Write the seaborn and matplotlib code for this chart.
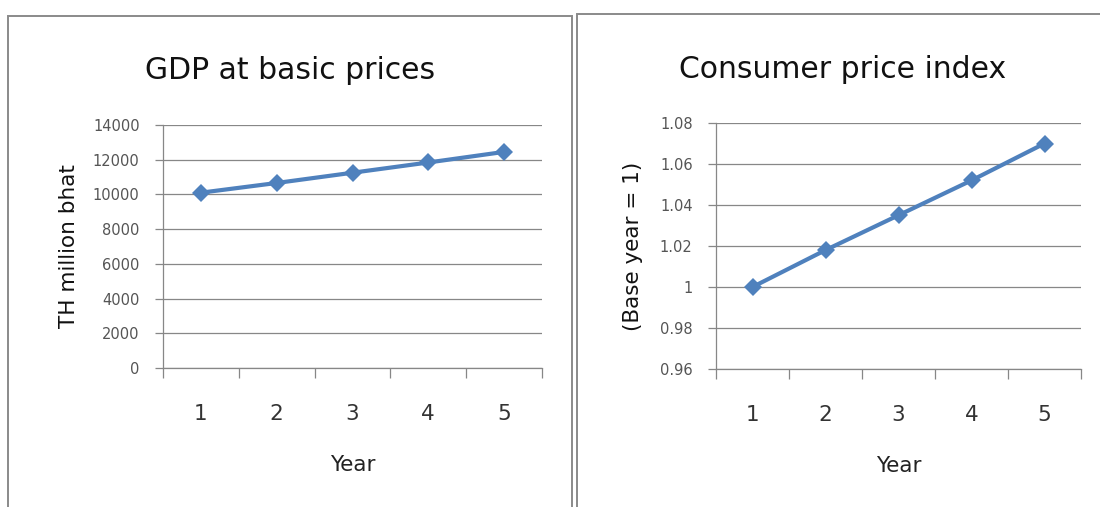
import matplotlib
matplotlib.use("Agg")
import matplotlib.pyplot as plt
import matplotlib.transforms as mtransforms
from matplotlib.patches import Rectangle
import seaborn as sns
import pandas as pd

# ---- data ----
years = [1, 2, 3, 4, 5]
gdp = [10100, 10660, 11250, 11840, 12450]
cpi = [1.000, 1.018, 1.035, 1.052, 1.070]
gdp_ticks = [0, 2000, 4000, 6000, 8000, 10000, 12000, 14000]
gdp_tick_labels = ["0", "2000", "4000", "6000", "8000", "10000", "12000", "14000"]
cpi_ticks = [0.96, 0.98, 1.00, 1.02, 1.04, 1.06, 1.08]
cpi_tick_labels = ["0.96", "0.98", "1", "1.02", "1.04", "1.06", "1.08"]
titles = ["GDP at basic prices", "Consumer price index"]
ylabels = ["TH million bhat", "(Base year = 1)"]
xlabel = "Year"

sns.set_style("white")
plt.rcParams["font.family"] = ["DejaVu Sans"]

W, H = 1100, 507
fig = plt.figure(figsize=(W / 100, H / 100), dpi=100)

def fx(px):
    return px / W

def fy(py):
    return 1 - py / H

# panel frames
fig.patches.append(Rectangle((fx(8), fy(520)), fx(572) - fx(8), fy(16) - fy(520),
                             transform=fig.transFigure, fill=False,
                             edgecolor="#8a8a8a", lw=1.4, zorder=0))
fig.patches.append(Rectangle((fx(577), fy(520)), fx(1120) - fx(577), fy(14) - fy(520),
                             transform=fig.transFigure, fill=False,
                             edgecolor="#8a8a8a", lw=1.4, zorder=0))

ax1 = fig.add_axes([fx(163), fy(368), fx(542) - fx(163), fy(125) - fy(368)])
ax2 = fig.add_axes([fx(716), fy(369), fx(1081) - fx(716), fy(123) - fy(369)])

line_color = "#4F81BD"
grid_color = "#878787"

df = pd.DataFrame({"Year": years, "GDP": gdp, "CPI": cpi})

specs = [
    (ax1, "GDP", gdp_ticks, gdp_tick_labels, (0, 14000), titles[0], ylabels[0], 0.335, 1.190, 79),
    (ax2, "CPI", cpi_ticks, cpi_tick_labels, (0.96, 1.08), titles[1], ylabels[1], 0.348, 1.184, 643),
]

for ax, col, yt, ytl, ylim, title, ylab, tx, ty, ylx in specs:
    ax.set_facecolor("white")
    sns.lineplot(data=df, x="Year", y=col, ax=ax, color=line_color, lw=3.0,
                 marker="D", markersize=9, markeredgewidth=0, zorder=3)
    ax.set_xlim(0.5, 5.5)
    ax.set_ylim(*ylim)
    ax.set_yticks(yt)
    ax.set_yticklabels(ytl)
    ax.set_xticks(years)
    ax.set_xticklabels([str(y) for y in years])
    ax.set_xticks([0.5, 1.5, 2.5, 3.5, 4.5, 5.5], minor=True)
    ax.tick_params(axis="x", which="major", bottom=True, length=0, pad=26, labelsize=15.5,
                   labelcolor="#333333")
    ax.tick_params(axis="x", which="minor", bottom=True, length=7.2, width=0.9,
                   direction="out", color=grid_color)
    ax.tick_params(axis="y", which="major", left=True, length=5.8, width=0.9,
                   direction="out", color=grid_color, pad=11, labelsize=10.5,
                   labelcolor="#555555")
    ax.set_axisbelow(True)
    ax.yaxis.grid(True, color=grid_color, lw=0.9)
    ax.xaxis.grid(False)
    for s in ["top", "right"]:
        ax.spines[s].set_visible(False)
    for s in ["left", "bottom"]:
        ax.spines[s].set_color(grid_color)
        ax.spines[s].set_linewidth(0.9)
    ax.set_title(title, fontsize=21.5, x=tx, y=ty, pad=0, color="#111111")
    ax.set_xlabel(xlabel, fontsize=15.5, labelpad=22, color="#222222")
    ax.set_ylabel(ylab, fontsize=15.5, color="#111111")
    ax.yaxis.set_label_coords(fx(ylx), 0.5,
                              transform=mtransforms.blended_transform_factory(fig.transFigure, ax.transAxes))

fig.savefig("out.png", dpi=100, facecolor="white")
